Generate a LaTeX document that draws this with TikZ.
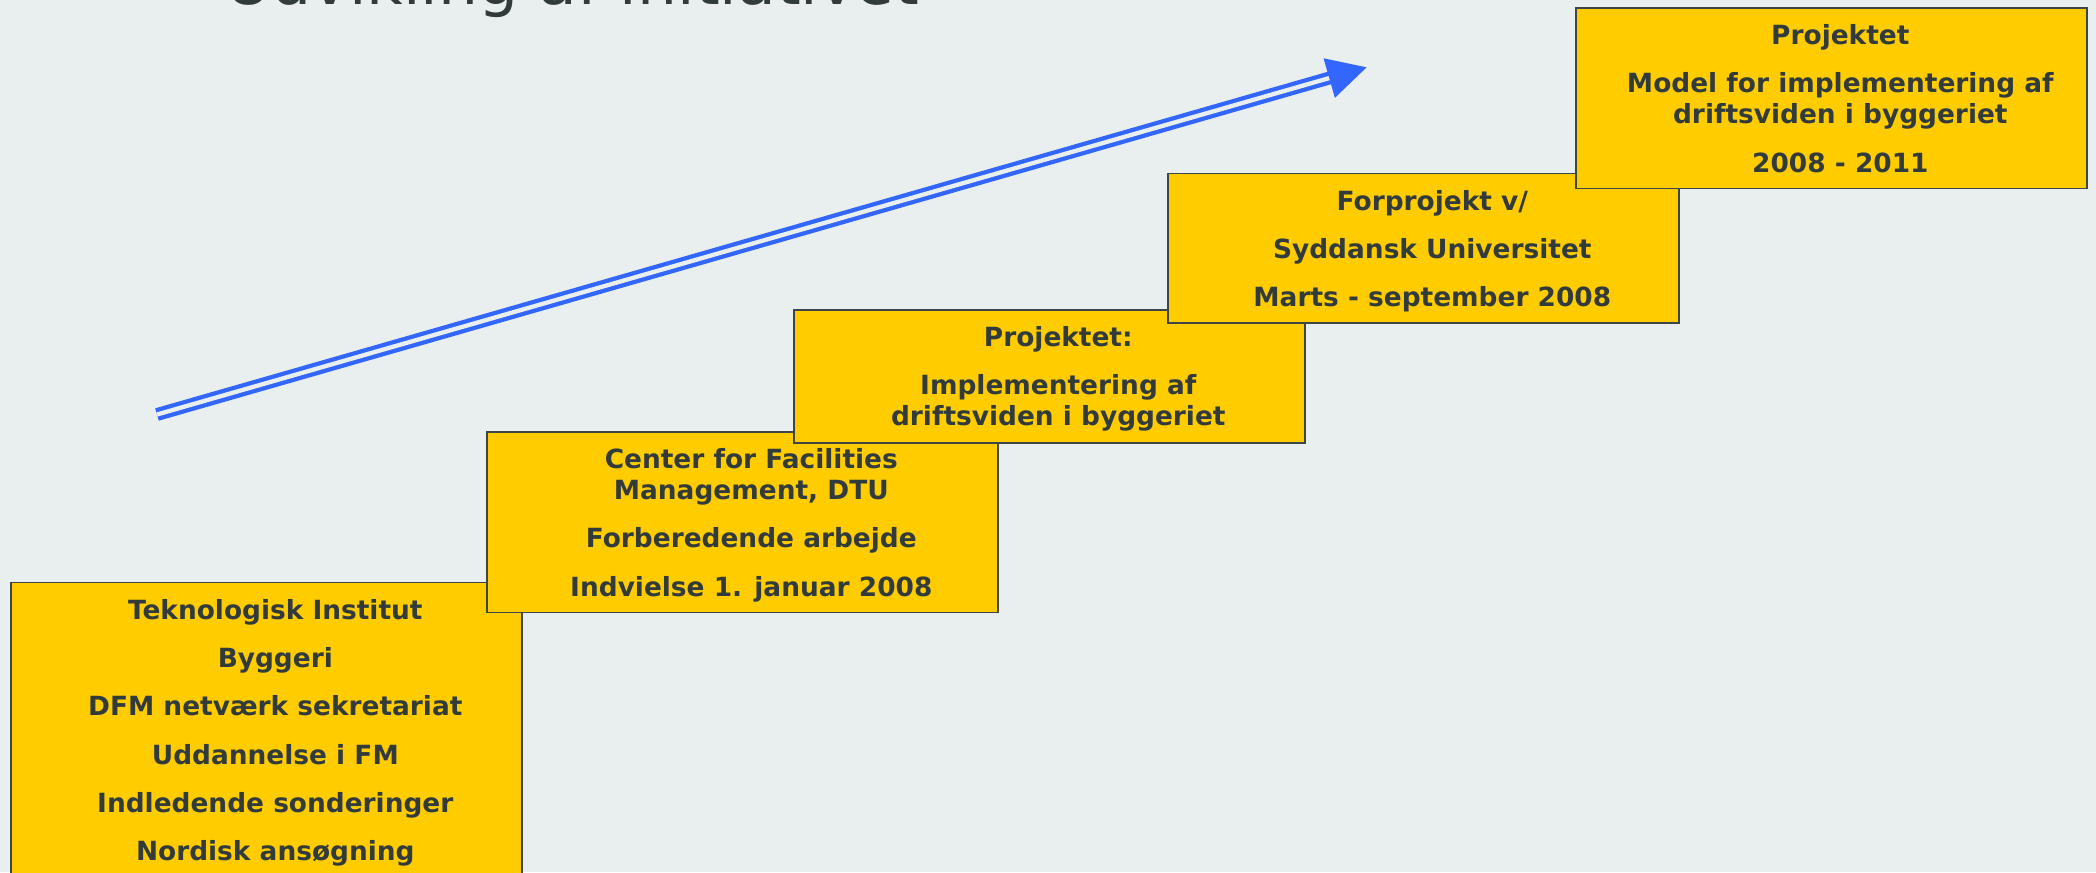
\documentclass[tikz,border=0pt]{standalone}
\usepackage{fontspec}
\setmainfont{DejaVu Sans}
\usetikzlibrary{arrows.meta}
\definecolor{bgcol}{HTML}{E9EFEF}
\definecolor{boxfill}{HTML}{FFCC00}
\definecolor{boxline}{HTML}{3C4646}
\definecolor{txtcol}{HTML}{323B3B}
\definecolor{arrowcol}{HTML}{3366FF}
\tikzset{
  stepbox/.style={draw=boxline, fill=boxfill, line width=0.8pt, minimum width=255.5pt, inner sep=0pt, anchor=north west},
  steptext/.style={text=txtcol, font=\bfseries\fontsize{13.2}{15.5}\selectfont, align=center, anchor=north, inner sep=0pt},
  arrowline/.style={draw=arrowcol, double=bgcol, double distance=2.15pt, line width=2.15pt, -{Triangle[length=19.5pt,width=20pt]}}
}
\begin{document}
\begin{tikzpicture}[x=0.5pt,y=-0.5pt]
\fill[bgcol] (0,0) rectangle (2096,872);
\useasboundingbox (0,0) rectangle (2096,872);
\node[anchor=base west, text=txtcol, font=\fontsize{31.6}{37}\selectfont, inner sep=0pt] (title) at (225,5) {Udvikling af initiativet};
\coordinate (tail) at (157,414.5);
\coordinate (tip) at (1366.7,67.3);
\draw[arrowline] (tail) -- (tip);
\node[stepbox, minimum height=150pt] (ti) at (10,581.5) {};
\node[steptext] (titext) at ([xshift=4.5pt,yshift=-8.6pt]ti.north) {Teknologisk Institut\\[8.65pt]Byggeri\\[8.65pt]DFM netværk sekretariat\\[8.65pt]Uddannelse i FM\\[8.65pt]Indledende sonderinger\\[8.65pt]Nordisk ansøgning};
\node[stepbox, minimum height=90.25pt] (cfm) at (486,431) {};
\node[steptext] (cfmtext) at ([xshift=4.5pt,yshift=-8.6pt]cfm.north) {Center for Facilities\\Management, DTU\\[8.65pt]Forberedende arbejde\\[8.65pt]Indvielse 1. januar 2008};
\node[stepbox, minimum height=66.5pt] (impl) at (793,309) {};
\node[steptext] (impltext) at ([xshift=4.5pt,yshift=-8.6pt]impl.north) {Projektet:\\[8.65pt]Implementering af\\driftsviden i byggeriet};
\node[stepbox, minimum height=74.75pt] (sdu) at (1167,172.5) {};
\node[steptext] (sdutext) at ([xshift=4.5pt,yshift=-8.6pt]sdu.north) {Forprojekt v/\\[8.65pt]Syddansk Universitet\\[8.65pt]Marts - september 2008};
\node[stepbox, minimum height=90.25pt] (model) at (1575,7) {};
\node[steptext] (modeltext) at ([xshift=4.5pt,yshift=-8.6pt]model.north) {Projektet\\[8.65pt]Model for implementering af\\driftsviden i byggeriet\\[8.65pt]2008 - 2011};
\end{tikzpicture}
\end{document}
